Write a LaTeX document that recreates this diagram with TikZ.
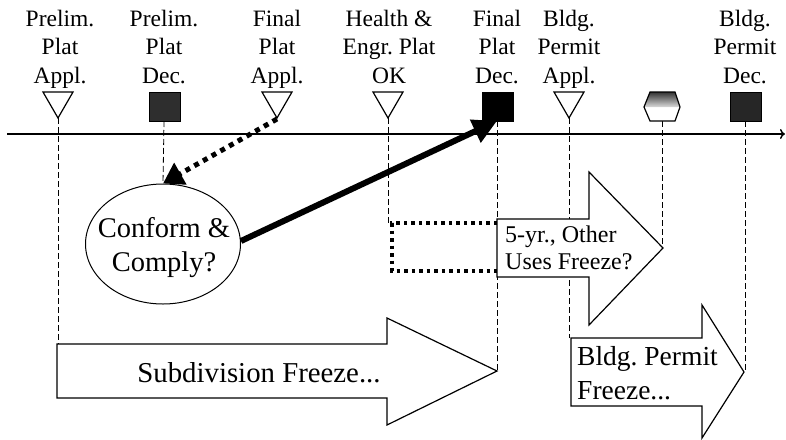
\documentclass[tikz,border=0pt]{standalone}
\usepackage{fontspec}
\setmainfont{Liberation Serif}
\usetikzlibrary{arrows.meta,shapes.geometric}
\frenchspacing

\begin{document}
\begin{tikzpicture}[x=1pt,y=-1pt,
  lbl/.style={align=center,anchor=base,inner sep=0pt,font=\fontsize{23.5}{28.5}\selectfont},
  guide/.style={line width=0.8pt,dash pattern=on 6pt off 3pt},
  tri/.style={draw,line width=1.2pt,fill=white},
  sq/.style={draw,line width=1pt},
  freeze/.style={draw,line width=1.2pt,fill=white,line join=miter},
  bigtext/.style={inner sep=0pt,font=\fontsize{28.5}{34}\selectfont},
]
\useasboundingbox (0,0) rectangle (786,439);

% ---- milestone labels (anchored at the baseline of the last line)
\node[lbl] (l1) at (60,83)  {Prelim.\\Plat\\Appl.};
\node[lbl] (l2) at (164,83) {Prelim.\\Plat\\Dec.};
\node[lbl] (l3) at (277,83) {Final\\Plat\\Appl.};
\node[lbl] (l4) at (389,83) {Health \&\\Engr. Plat\\OK};
\node[lbl] (l5) at (497,83) {Final\\Plat\\Dec.};
\node[lbl] (l6) at (569,83) {Bldg.\\Permit\\Appl.};
\node[lbl] (l8) at (745,83) {Bldg.\\Permit\\Dec.};

% ---- anchor points below each milestone marker
\coordinate (m1) at (58,118);
\coordinate (m2) at (164,121);
\coordinate (m3) at (277,119);
\coordinate (m4) at (388,118);
\coordinate (m5) at (497,121);
\coordinate (m6) at (569,118);
\coordinate (m7) at (662,121);
\coordinate (m8) at (745,121);

% ---- ends of the guide lines
\coordinate (e1) at (58,344);
\coordinate (e4) at (388,223);
\coordinate (e5) at (497,371);
\coordinate (e6) at (569,338);
\coordinate (e7) at (662,247);
\coordinate (e8) at (745,371);

% ---- time axis
\coordinate (ax0) at (7,134);
\coordinate (ax1) at (785,134);
\draw[line width=1.5pt,-{To[length=5pt,width=10pt]}] (ax0) -- (ax1);

% ---- consultation ellipse
\node[draw,ellipse,line width=1pt,minimum width=155pt,minimum height=120pt,fill=white] (cc) at (163,244) {};
\node[bigtext,align=center,anchor=base] (cct) at (164,271) {Conform \&\\Comply?};

% ---- vertical dashed guides
\draw[guide] (m1) -- (e1);
\draw[guide] (m2) -- (cc.north);
\draw[guide] (m4) -- (e4);
\draw[guide] (m5) -- (e5);
\draw[guide] (m6) -- (e6);
\draw[guide] (m7) -- (e7);
\draw[guide] (m8) -- (e8);

% ---- freeze arrows
\draw[freeze] (57,344) -- (387,344) -- (387,318) -- (497,371) -- (387,425) -- (387,398) -- (57,398) -- cycle;
\node[bigtext,anchor=base,font=\fontsize{28.8}{34}\selectfont] (sub) at (259,382) {Subdivision Freeze...};

\draw[freeze] (497,219) -- (589,219) -- (589,172) -- (663,248) -- (589,325) -- (589,277) -- (497,277) -- cycle;
\node[inner sep=0pt,align=left,anchor=base west,font=\fontsize{24}{27}\selectfont] (five) at (505,269) {5-yr., Other\\Uses Freeze?};

\draw[freeze] (571,338) -- (702,338) -- (702,305) -- (744,372) -- (702,438) -- (702,406) -- (571,406) -- cycle;
\node[bigtext,align=left,anchor=base west,font=\fontsize{27.5}{34}\selectfont] (bpf) at (577,399) {Bldg. Permit\\Freeze...};

% ---- dotted bracket linking the health OK to the 5-yr arrow
\coordinate (b1) at (497,223);
\coordinate (b2) at (392,223);
\coordinate (b3) at (392,271);
\coordinate (b4) at (497,271);
\draw[line width=3.5pt,dash pattern=on 3.5pt off 4pt] (b1) -- (b2) -- (b3) -- (b4);

% ---- milestone markers
\foreach \x in {58,277,388,569}
  \draw[tri] (\x-15,92) -- (\x+15,92) -- (\x,118) -- cycle;
\draw[sq,fill=black!82] (149,92) rectangle (180,121);
\draw[sq,fill=black] (482,92) rectangle (513,121);
\draw[sq,fill=black!85] (730,92) rectangle (761,121);
% hexagon with shaded top half
\fill[white] (650,92) -- (675,92) -- (680,107) -- (675,121) -- (650,121) -- (644,107) -- cycle;
\shade[top color=black!80,bottom color=black!15] (650,92) -- (675,92) -- (680,107) -- (644,107) -- cycle;
\draw[line width=1.2pt] (650,92) -- (675,92) -- (680,107) -- (675,121) -- (650,121) -- (644,107) -- cycle;

% ---- connectors
\draw[line width=5pt,dash pattern=on 5pt off 5pt,-{Triangle[length=20pt,width=24pt]}] (m3) -- (cc.north);
\draw[line width=6pt,-{Triangle[length=24pt,width=24pt]}] (cc.east) ++(0,-3) -- (m5);
\end{tikzpicture}
\end{document}
